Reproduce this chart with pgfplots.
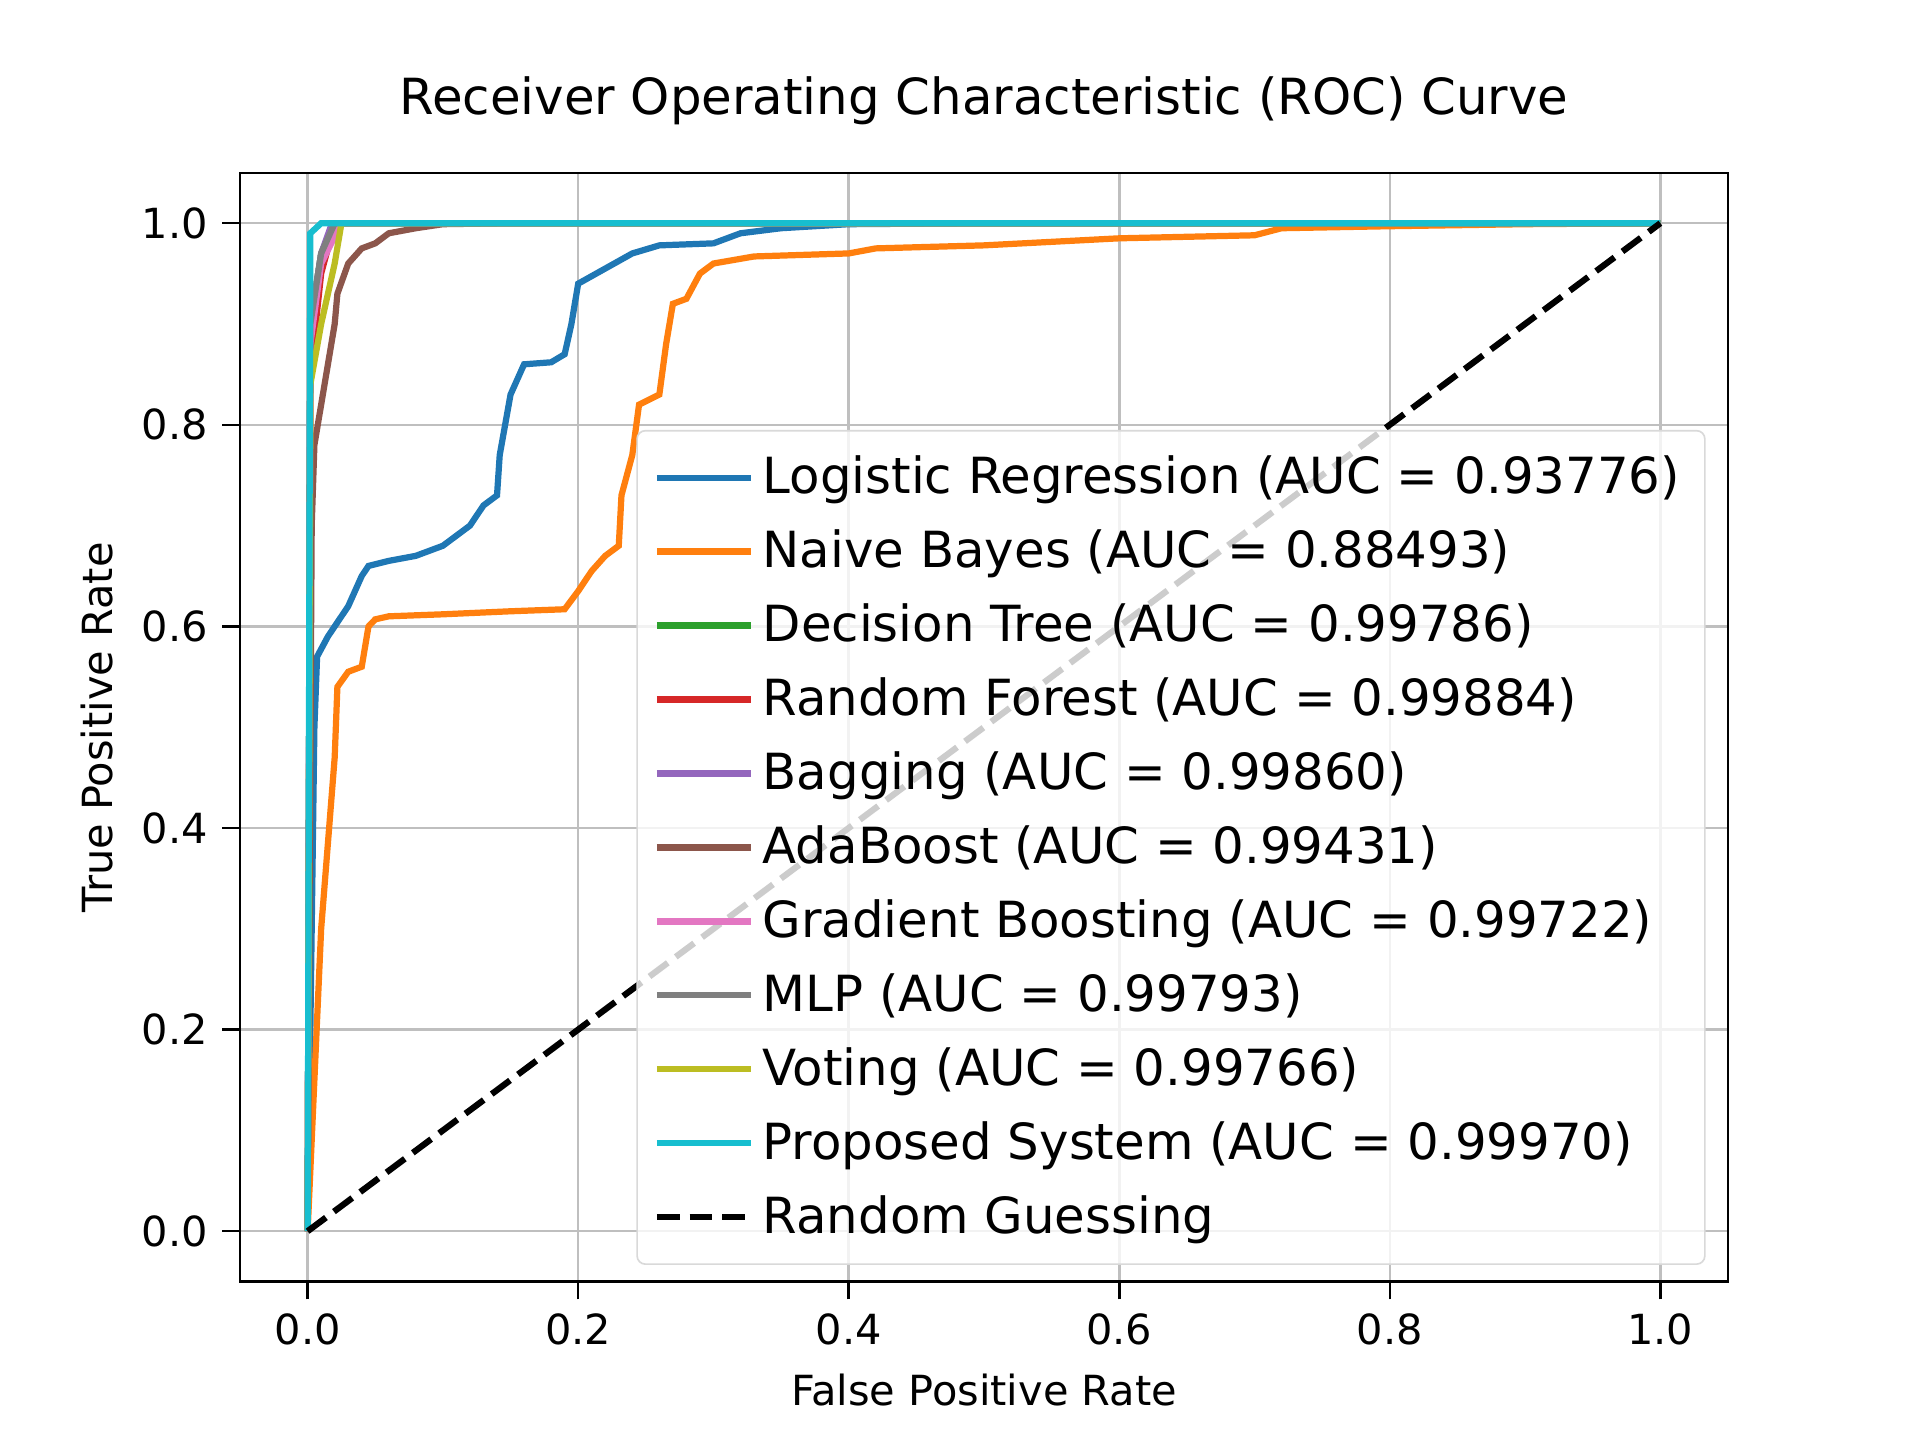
\documentclass[border=0pt]{standalone}
\usepackage{pgfplots}
\pgfplotsset{compat=1.18}
\usepackage{fontspec}
\setmainfont{DejaVu Sans}
\definecolor{c0}{HTML}{1F77B4}\definecolor{c1}{HTML}{FF7F0E}\definecolor{c2}{HTML}{2CA02C}
\definecolor{c3}{HTML}{D62728}\definecolor{c4}{HTML}{9467BD}\definecolor{c5}{HTML}{8C564B}
\definecolor{c6}{HTML}{E377C2}\definecolor{c7}{HTML}{7F7F7F}\definecolor{c8}{HTML}{BCBD22}
\definecolor{c9}{HTML}{17BECF}
\begin{document}
\begin{tikzpicture}
\useasboundingbox (-0.8in,-0.528in) rectangle (5.6in,4.272in);
\begin{axis}[at={(0,0)},anchor=south west,scale only axis,width=4.96in,height=3.696in,
xmin=-0.05,xmax=1.05,ymin=-0.05,ymax=1.05,
xtick={0,0.2,...,1},ytick={0,0.2,...,1},
xtick pos=bottom,ytick pos=left,
xticklabel style={/pgf/number format/.cd,fixed,fixed zerofill,precision=1},
yticklabel style={/pgf/number format/.cd,fixed,fixed zerofill,precision=1},
/pgf/number format/assume math mode=true,
grid=major,grid style={gray!50,line width=0.6pt},
tick align=outside,tick style={black,line width=0.6pt},axis line style={line width=0.6pt},
title={Receiver Operating Characteristic (ROC) Curve},title style={font=\large,yshift=2pt},
xlabel={False Positive Rate},ylabel={True Positive Rate},
legend pos=south east,legend cell align=left,
legend style={fill opacity=0.8,text opacity=1,draw=gray!30,rounded corners=2pt,font=\large,row sep=3.2pt,at={(0.985,0.015)},inner xsep=4pt,inner ysep=4pt},
legend image code/.code={\draw[#1] (0cm,0cm) -- (0.8cm,0cm);},
every axis plot/.append style={line width=1.5pt},
]
\addplot[c0] coordinates {(0,0)(0.003,0.3)(0.005,0.5)(0.007,0.57)(0.015,0.59)(0.02,0.6)(0.03,0.62)(0.04,0.65)(0.045,0.66)(0.06,0.665)(0.08,0.67)(0.1,0.68)(0.12,0.7)(0.13,0.72)(0.14,0.73)(0.142,0.77)(0.15,0.83)(0.16,0.86)(0.18,0.862)(0.19,0.87)(0.195,0.9)(0.2,0.94)(0.22,0.955)(0.24,0.97)(0.26,0.978)(0.3,0.98)(0.32,0.99)(0.35,0.995)(0.4,0.999)(0.5,1)(1,1)};
\addlegendentry{Logistic Regression (AUC = 0.93776)}
\addplot[c1] coordinates {(0,0)(0.005,0.15)(0.01,0.3)(0.02,0.47)(0.022,0.54)(0.03,0.555)(0.04,0.56)(0.045,0.6)(0.05,0.607)(0.06,0.61)(0.1,0.612)(0.15,0.615)(0.19,0.617)(0.2,0.635)(0.21,0.655)(0.22,0.67)(0.23,0.68)(0.232,0.73)(0.24,0.77)(0.245,0.82)(0.26,0.83)(0.265,0.88)(0.27,0.92)(0.28,0.925)(0.29,0.95)(0.3,0.96)(0.33,0.967)(0.4,0.97)(0.42,0.975)(0.5,0.978)(0.6,0.985)(0.7,0.988)(0.72,0.995)(0.8,0.997)(0.9,0.999)(1,1)};
\addlegendentry{Naive Bayes (AUC = 0.88493)}
\addplot[c2] coordinates {(0,0)(0.002,0.9)(0.01,0.97)(0.02,1)(1,1)};
\addlegendentry{Decision Tree (AUC = 0.99786)}
\addplot[c3] coordinates {(0,0)(0.002,0.85)(0.01,0.95)(0.02,1)(1,1)};
\addlegendentry{Random Forest (AUC = 0.99884)}
\addplot[c4] coordinates {(0,0)(0.002,0.9)(0.01,0.97)(0.018,1)(1,1)};
\addlegendentry{Bagging (AUC = 0.99860)}
\addplot[c5] coordinates {(0,0)(0.003,0.7)(0.005,0.78)(0.01,0.82)(0.015,0.86)(0.02,0.9)(0.022,0.93)(0.03,0.96)(0.04,0.975)(0.05,0.98)(0.06,0.99)(0.08,0.995)(0.1,0.999)(0.15,1)(1,1)};
\addlegendentry{AdaBoost (AUC = 0.99431)}
\addplot[c6] coordinates {(0,0)(0.002,0.88)(0.01,0.96)(0.025,1)(1,1)};
\addlegendentry{Gradient Boosting (AUC = 0.99722)}
\addplot[c7] coordinates {(0,0)(0.002,0.9)(0.01,0.97)(0.02,1)(1,1)};
\addlegendentry{MLP (AUC = 0.99793)}
\addplot[c8] coordinates {(0,0)(0.002,0.84)(0.01,0.9)(0.02,0.96)(0.025,1)(1,1)};
\addlegendentry{Voting (AUC = 0.99766)}
\addplot[c9] coordinates {(0,0)(0.002,0.99)(0.01,1)(1,1)};
\addlegendentry{Proposed System (AUC = 0.99970)}
\addplot[black,dash pattern=on 5.5pt off 2.4pt] coordinates {(0,0)(1,1)};
\addlegendentry{Random Guessing}
\end{axis}
\end{tikzpicture}
\end{document}
